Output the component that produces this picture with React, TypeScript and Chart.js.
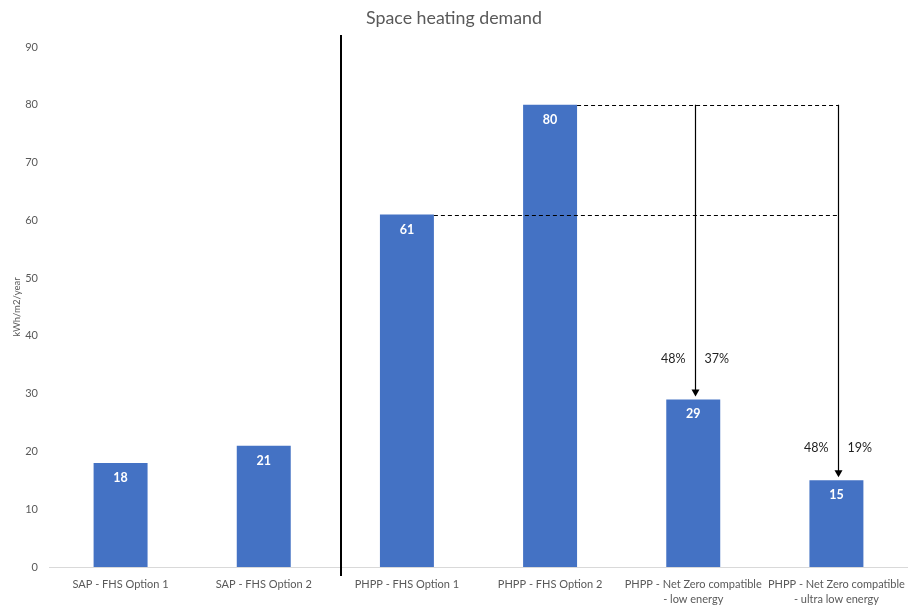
import React, { useEffect, useRef } from "react";
import { Chart, registerables } from "chart.js";

Chart.register(...registerables);

// Space heating demand per option (kWh/m2/year)
const categories: (string | string[])[] = [
  "SAP - FHS Option 1",
  "SAP - FHS Option 2",
  "PHPP - FHS Option 1",
  "PHPP - FHS Option 2",
  ["PHPP - Net Zero compatible", "- low energy"],
  ["PHPP - Net Zero compatible", "- ultra low energy"],
];
const demand = [18, 21, 61, 80, 29, 15];
const yAxisTitle = "kWh/m2/year";

// Reduction callouts: arrow drawn from the reference level down to the target bar
const arrowTargets = [4, 5];
const arrowFromValue = 80;
const reductionLeft = ["48%", "48%"];
const reductionRight = ["37%", "19%"];
const reductionLabelValue = [36, 20.6];

// Dashed reference levels: [source bar index, value]
const refLevels: [number, number][] = [
  [3, 80],
  [2, 61],
];

// Divider between SAP and PHPP groups (category index position)
const dividerAt = 1.54;

const FONT = "Lato, 'Open Sans', sans-serif";
const BAR_BLUE = "#4472C4";

const annotations = {
  id: "heatingAnnotations",
  afterDatasetsDraw(chart: any) {
    const { ctx, chartArea } = chart;
    const x = chart.scales.x;
    const y = chart.scales.y;
    const bars = chart.getDatasetMeta(0).data;

    ctx.save();

    // value labels inside bar tops
    ctx.fillStyle = "#ffffff";
    ctx.font = `bold 12.5px ${FONT}`;
    ctx.textAlign = "center";
    ctx.textBaseline = "middle";
    bars.forEach((b: any, i: number) => {
      ctx.fillText(String(demand[i]), b.x, b.y + 15);
    });

    const lastArrowX = bars[arrowTargets[arrowTargets.length - 1]].x + 2;

    // dashed reference lines
    ctx.strokeStyle = "#000000";
    ctx.lineWidth = 1;
    ctx.setLineDash([4, 3]);
    refLevels.forEach(([idx, v]) => {
      const b = bars[idx];
      const py = Math.round(y.getPixelForValue(v)) + 0.5;
      ctx.beginPath();
      ctx.moveTo(b.x + b.width / 2, py);
      ctx.lineTo(lastArrowX, py);
      ctx.stroke();
    });
    ctx.setLineDash([]);

    // arrows
    arrowTargets.forEach((idx, k) => {
      const b = bars[idx];
      const ax = Math.round(b.x + 1.5) + 0.5;
      const top = y.getPixelForValue(arrowFromValue);
      const tip = b.y - 3;
      ctx.strokeStyle = "#000000";
      ctx.lineWidth = 1.2;
      ctx.beginPath();
      ctx.moveTo(ax, top);
      ctx.lineTo(ax, tip - 6);
      ctx.stroke();
      ctx.fillStyle = "#000000";
      ctx.beginPath();
      ctx.moveTo(ax - 4, tip - 7);
      ctx.lineTo(ax + 4, tip - 7);
      ctx.lineTo(ax, tip);
      ctx.closePath();
      ctx.fill();

      // percentage labels either side of the arrow
      const ly = y.getPixelForValue(reductionLabelValue[k]);
      ctx.fillStyle = "#1f1f1f";
      ctx.font = `12.5px ${FONT}`;
      ctx.textBaseline = "middle";
      ctx.textAlign = "right";
      ctx.fillText(reductionLeft[k], ax - 10, ly);
      ctx.textAlign = "left";
      ctx.fillText(reductionRight[k], ax + 9, ly);
    });

    // group divider
    const i0 = Math.floor(dividerAt);
    const frac = dividerAt - i0;
    const dx =
      x.getPixelForValue(i0) + (x.getPixelForValue(i0 + 1) - x.getPixelForValue(i0)) * frac;
    ctx.strokeStyle = "#000000";
    ctx.lineWidth = 2;
    ctx.beginPath();
    ctx.moveTo(Math.round(dx), chartArea.top - 12);
    ctx.lineTo(Math.round(dx), chartArea.bottom + 9);
    ctx.stroke();

    // vertical axis title, centred on the plot height
    ctx.save();
    ctx.translate(17, (chartArea.top + chartArea.bottom) / 2);
    ctx.rotate(-Math.PI / 2);
    ctx.fillStyle = "#595959";
    ctx.font = `9.5px ${FONT}`;
    ctx.textAlign = "center";
    ctx.textBaseline = "middle";
    ctx.fillText(yAxisTitle, 0, 0);
    ctx.restore();

    ctx.restore();
  },
};

export default function App() {
  const canvasRef = useRef<HTMLCanvasElement | null>(null);

  useEffect(() => {
    document.body.style.margin = "0";
    const canvas = canvasRef.current;
    if (!canvas) return;
    const chart = new Chart(canvas, {
      type: "bar",
      data: {
        labels: categories,
        datasets: [
          {
            data: demand,
            backgroundColor: BAR_BLUE,
            categoryPercentage: 1,
            barPercentage: 0.377,
          },
        ],
      },
      options: {
        responsive: false,
        devicePixelRatio: 1,
        animation: false,
        layout: { padding: 0 },
        plugins: {
          legend: { display: false },
          tooltip: { enabled: false },
          title: {
            display: true,
            text: "Space heating demand",
            color: "#595959",
            font: { family: FONT, size: 17.8, weight: "normal" },
            padding: { top: 8, bottom: 17.6 },
          },
        },
        scales: {
          x: {
            grid: { display: false, drawTicks: false },
            border: { display: true, color: "#d9d9d9", width: 1 },
            ticks: {
              color: "#595959",
              font: { family: FONT, size: 11, lineHeight: 1.35 },
              padding: 10,
              autoSkip: false,
              maxRotation: 0,
              minRotation: 0,
            },
            afterFit(scale: any) {
              scale.height = 38;
              scale.paddingLeft = 0;
              scale.paddingRight = 0;
            },
          },
          y: {
            min: 0,
            max: 90,
            grid: { display: false, drawTicks: false },
            border: { display: false },
            ticks: {
              stepSize: 10,
              color: "#595959",
              font: { family: FONT, size: 11 },
              padding: 11,
            },
            afterFit(scale: any) {
              scale.width = 49;
              scale.paddingTop = 0;
              scale.paddingBottom = 0;
            },
          },
        },
      },
      plugins: [annotations],
    });
    return () => chart.destroy();
  }, []);

  return (
    <div style={{ width: 908, height: 605, position: "relative", background: "#ffffff" }}>
      <canvas ref={canvasRef} width={908} height={605} />
    </div>
  );
}
